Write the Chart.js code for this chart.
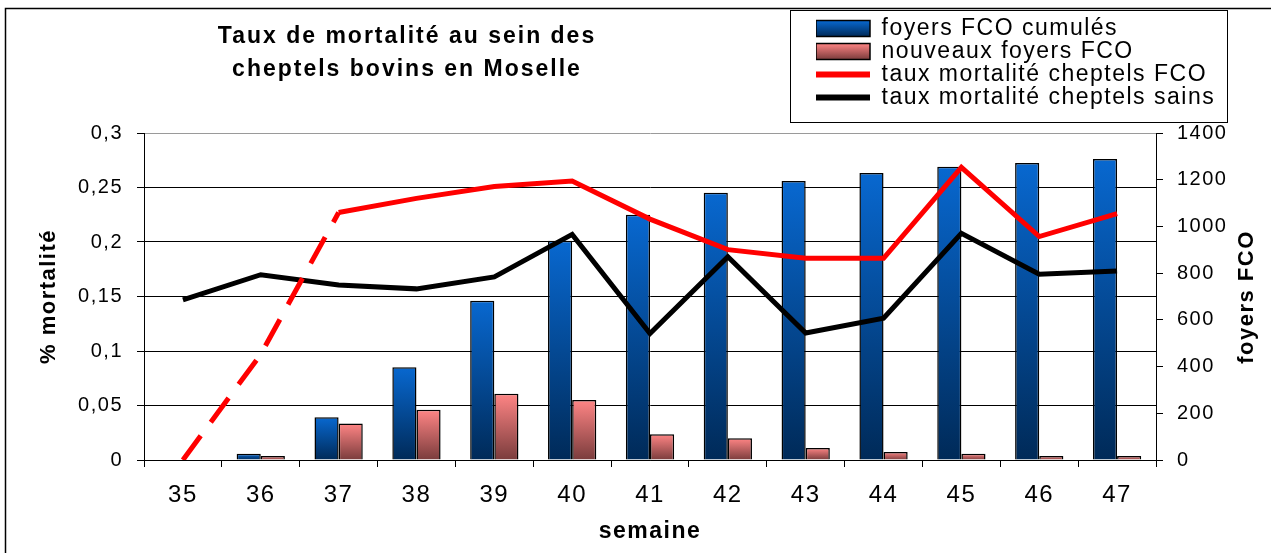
<!DOCTYPE html>
<html>
<head>
<meta charset="utf-8">
<title>Taux de mortalité au sein des cheptels bovins en Moselle</title>
<script src="https://cdn.jsdelivr.net/npm/chart.js@4/dist/chart.umd.min.js"></script>
<style>
  html, body { margin: 0; padding: 0; background: #fff; }
  #wrap { width: 1271px; height: 553px; }
</style>
</head>
<body>
<div id="wrap"><canvas id="chart" width="1271" height="553"></canvas></div>
<script>
// DATA
const weeks = ["35", "36", "37", "38", "39", "40", "41", "42", "43", "44", "45", "46", "47"];
const cumulatedOutbreaks = [null, 27, 183, 397, 682, 939, 1050, 1144, 1194, 1229, 1256, 1272, 1289];
const newOutbreaks = [null, 17, 156, 215, 284, 257, 110, 93, 51, 34, 27, 17, 17];
const mortalityInfected = [0, 0.097, 0.227, 0.240, 0.251, 0.256, 0.221, 0.193, 0.185, 0.185, 0.2685, 0.205, 0.226];
const mortalityHealthy = [0.147, 0.170, 0.1605, 0.157, 0.168, 0.207, 0.116, 0.1865, 0.1165, 0.130, 0.208, 0.1705, 0.1735];
const mortalityTicks = [0, 0.05, 0.1, 0.15, 0.2, 0.25, 0.3];
const outbreakTicks = [0, 200, 400, 600, 800, 1000, 1200, 1400];

const seriesNames = ["foyers FCO cumulés", "nouveaux foyers FCO", "taux mortalité cheptels FCO", "taux mortalité cheptels sains"];
const titleLines = ["Taux de mortalité au sein des", "cheptels bovins en Moselle"];
const xTitle = "semaine";
const leftTitle = "% mortalité";
const rightTitle = "foyers FCO";

// STYLE
const FONT = '"Liberation Sans", Arial, sans-serif';
const BLUE = ["#0868d0", "#002a58"];
const PINK = ["#ff8585", "#7a3c3c"];
const LEG_LEFT = 816, LEG_TOP = 17, LEG_ROW = 23;

// vertical gradient for each bar, from its top down to the baseline
function barFill(colors) {
    return c => {
        const chart = c.chart;
        const s = chart.scales && chart.scales.yR;
        if (c.type !== "data" || !s || c.raw == null) return colors[0];
        const g = chart.ctx.createLinearGradient(0, s.getPixelForValue(c.raw), 0, s.getPixelForValue(0));
        g.addColorStop(0, colors[0]);
        g.addColorStop(1, colors[1]);
        return g;
    };
}

function legendFill(ctx, colors, row) {
    const cy = LEG_TOP + row * LEG_ROW + 11.5;
    const g = ctx.createLinearGradient(0, cy - 8, 0, cy + 8);
    g.addColorStop(0, colors[0]);
    g.addColorStop(1, colors[1]);
    return g;
}

const tweaks = {
    id: "tweaks",
    beforeLayout(chart) {
        chart.ctx.letterSpacing = "1.5px";
    },
    afterLayout(chart) {
        // legend sits above the plot, on the right
        const lg = chart.legend;
        lg.left = LEG_LEFT; lg.top = LEG_TOP;
        lg.width = 410; lg.height = 110;
        lg.right = lg.left + lg.width; lg.bottom = lg.top + lg.height;
        // title centred over the left part of the chart
        const t = chart.titleBlock;
        t.left = 157; t.right = 657;
        if (!t._spaced) {
            const draw = t.draw;
            t.draw = function () {
                const ctx = this.ctx;
                const old = ctx.letterSpacing;
                ctx.letterSpacing = "2px";
                draw.apply(this, arguments);
                ctx.letterSpacing = old;
            };
            t._spaced = true;
        }
    },
    beforeDraw(chart) {
        const ctx = chart.ctx;
        ctx.save();
        ctx.fillStyle = "#fff";
        ctx.fillRect(0, 0, chart.width, chart.height);
        ctx.restore();
        ctx.letterSpacing = "1.5px";
    },
    afterDraw(chart) {
        const ctx = chart.ctx;
        ctx.save();
        ctx.strokeStyle = "#000";
        ctx.lineWidth = 1.5;
        ctx.strokeRect(5.5, 8.5, 1400, 700);
        ctx.lineWidth = 1;
        ctx.strokeRect(790.5, 10.5, 437, 112);
        // right axis title, read bottom to top
        ctx.translate(1247, 297);
        ctx.rotate(-Math.PI / 2);
        ctx.font = "bold 22px " + FONT;
        ctx.fillStyle = "#000";
        ctx.textAlign = "center";
        ctx.textBaseline = "middle";
        ctx.fillText(rightTitle, 0, 0);
        ctx.restore();
    }
};

new Chart(document.getElementById("chart"), {
    type: "bar",
    data: {
        labels: weeks,
        datasets: [
            {
                type: "bar", label: seriesNames[0], data: cumulatedOutbreaks, yAxisID: "yR", order: 2,
                backgroundColor: barFill(BLUE), borderColor: "#000", borderWidth: 1.5,
                categoryPercentage: 0.62, barPercentage: 1.0
            },
            {
                type: "bar", label: seriesNames[1], data: newOutbreaks, yAxisID: "yR", order: 2,
                backgroundColor: barFill(PINK), borderColor: "#000", borderWidth: 1.5,
                categoryPercentage: 0.62, barPercentage: 1.0
            },
            {
                type: "line", label: seriesNames[2], data: mortalityInfected, yAxisID: "y", order: 0,
                borderColor: "#ff0000", backgroundColor: "#ff0000", borderWidth: 5,
                pointRadius: 0, tension: 0,
                segment: { borderDash: c => c.p0DataIndex < 2 ? [30, 17] : undefined }
            },
            {
                type: "line", label: seriesNames[3], data: mortalityHealthy, yAxisID: "y", order: 1,
                borderColor: "#000", backgroundColor: "#000", borderWidth: 5,
                pointRadius: 0, tension: 0
            }
        ]
    },
    options: {
        responsive: false,
        animation: false,
        devicePixelRatio: 1,
        events: [],
        layout: { padding: { left: 6, top: 8, right: 0, bottom: 0 } },
        font: { family: FONT },
        plugins: {
            title: {
                display: true,
                text: titleLines,
                color: "#000",
                font: { family: FONT, size: 23, weight: "bold", lineHeight: "33px" },
                padding: { top: 12.5, bottom: 46.5 }
            },
            legend: {
                position: "chartArea",
                align: "start",
                labels: {
                    color: "#000",
                    font: { family: FONT, size: 23 },
                    usePointStyle: true,
                    pointStyleWidth: 54,
                    boxHeight: 16,
                    padding: 0,
                    generateLabels(chart) {
                        const ctx = chart.ctx;
                        return chart.data.datasets.map((ds, i) => {
                            const isBar = ds.type === "bar";
                            return {
                                text: ds.label,
                                datasetIndex: i,
                                hidden: false,
                                fontColor: "#000",
                                textAlign: "left",
                                rotation: 0,
                                pointStyle: isBar ? "rect" : "line",
                                fillStyle: isBar ? legendFill(ctx, i === 0 ? BLUE : PINK, i) : ds.borderColor,
                                strokeStyle: isBar ? "#000" : ds.borderColor,
                                lineWidth: isBar ? 1.5 : 6,
                                lineCap: "butt",
                                lineDash: []
                            };
                        });
                    }
                }
            },
            tooltip: { enabled: false }
        },
        scales: {
            x: {
                offset: true,
                grid: { offset: true, drawOnChartArea: false, tickLength: 7, color: "#000", tickColor: "#000" },
                border: { color: "#000", width: 1 },
                ticks: { color: "#000", font: { family: FONT, size: 24 }, padding: 14, maxRotation: 0, autoSkip: false },
                title: {
                    display: true, text: xTitle, color: "#000",
                    font: { family: FONT, size: 23, weight: "bold" },
                    padding: { top: 0, bottom: 8 }
                },
                afterFit(s) { s.height = 93; }
            },
            y: {
                position: "left",
                min: 0, max: 0.3,
                afterBuildTicks(s) { s.ticks = mortalityTicks.map(v => ({ value: v })); },
                grid: {
                    color: c => (c.tick && c.tick.value >= 0.3) ? "#9a9a9a" : "#000",
                    tickColor: "#000", tickLength: 7
                },
                border: { color: "#000", width: 1 },
                ticks: {
                    color: "#000", font: { family: FONT, size: 20 }, padding: 14,
                    callback: v => String(v).replace(".", ",")
                },
                title: {
                    display: true, text: leftTitle, color: "#000",
                    font: { family: FONT, size: 22, weight: "bold" },
                    padding: { top: 30, bottom: 0 }
                },
                afterFit(s) { s.width = 138; }
            },
            yR: {
                position: "right",
                min: 0, max: 1400,
                afterBuildTicks(s) { s.ticks = outbreakTicks.map(v => ({ value: v })); },
                grid: { drawOnChartArea: false, tickLength: 7, color: "#000", tickColor: "#000" },
                border: { color: "#000", width: 1 },
                ticks: { color: "#000", font: { family: FONT, size: 20 }, padding: 14, callback: v => String(v) },
                afterFit(s) { s.width = 115; }
            }
        }
    },
    plugins: [tweaks]
});
</script>
</body>
</html>
